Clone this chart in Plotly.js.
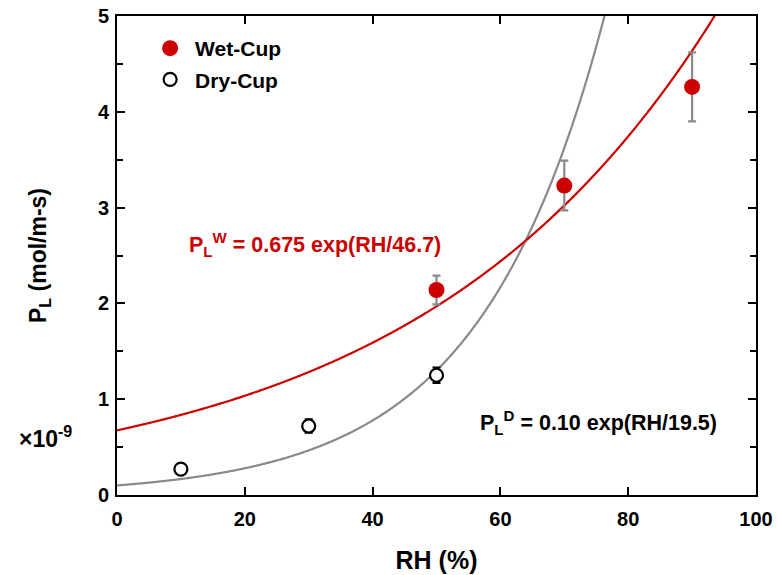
<!DOCTYPE html>
<html>
<head>
<meta charset="utf-8">
<script src="https://cdn.plot.ly/plotly-3.0.1.min.js"></script>
<style>html,body{margin:0;padding:0;background:#fff;}#chart{width:777px;height:575px;}</style>
</head>
<body>
<div id="chart"></div>
<script>
// Measured data (units of 1e-9 mol/m-s)
const wetRH = [50, 70, 90];
const wetPL = [2.14, 3.23, 4.26];
const wetErr = [0.15, 0.26, 0.36];

const dryRH = [10, 30, 50];
const dryPL = [0.27, 0.72, 1.25];
const dryErr = [0.03, 0.07, 0.08];

// Fit parameters as printed on the chart: P = A * exp(RH / B)
const wetFitA = 0.675, wetFitB = 46.7;
const dryFitA = 0.10, dryFitB = 19.5;

const xTicks = [0, 20, 40, 60, 80, 100];
const yTicks = [0, 1, 2, 3, 4, 5];

const fitRH = [];
for (let i = 0; i <= 400; i++) fitRH.push(i * 0.25);
const wetFit = fitRH.map(x => wetFitA * Math.exp(x / wetFitB));
const dryFit = fitRH.map(x => dryFitA * Math.exp(x / dryFitB));

const RED = '#cc0000';
const GRAY = '#8a8a8a';
const FONT = 'Liberation Sans, Arial, Helvetica, sans-serif';

const traces = [
  {x: fitRH, y: dryFit, mode: 'lines', line: {color: GRAY, width: 2.2, shape: 'spline'}, showlegend: false, hoverinfo: 'skip'},
  {x: fitRH, y: wetFit, mode: 'lines', line: {color: RED, width: 2.2, shape: 'spline'}, showlegend: false, hoverinfo: 'skip'},
  {x: wetRH, y: wetPL, mode: 'markers', name: 'Wet-Cup', legendgroup: 'w',
   marker: {color: RED, size: 16, line: {width: 0}},
   error_y: {type: 'data', array: wetErr, visible: true, color: GRAY, thickness: 2.2, width: 4}},
  {x: dryRH, y: dryPL, mode: 'markers', name: 'Dry-Cup', legendgroup: 'd',
   marker: {color: 'white', size: 13, line: {color: 'black', width: 2.2}},
   error_y: {type: 'data', array: dryErr, visible: true, color: 'black', thickness: 2, width: 4}}
];

const axisCommon = {
  showgrid: false, zeroline: false, showline: true, linecolor: 'black', linewidth: 2,
  mirror: 'allticks', ticks: 'inside', ticklen: 8, tickwidth: 2, tickcolor: 'black',
  tickfont: {family: FONT, size: 20, color: 'black', weight: 'bold'}
};

const layout = {
  width: 777, height: 575,
  margin: {l: 117, r: 21, t: 16, b: 80},
  paper_bgcolor: 'white', plot_bgcolor: 'white',
  font: {family: FONT, color: 'black'},
  xaxis: Object.assign({}, axisCommon, {
    range: [0, 100], tickmode: 'array', tickvals: xTicks, ticktext: xTicks.map(String),
    ticklabelstandoff: 5,
    title: {text: 'RH (%)', font: {family: FONT, size: 25, color: 'black', weight: 'bold'}, standoff: 22}
  }),
  yaxis: Object.assign({}, axisCommon, {
    range: [0, 5], tickmode: 'array', tickvals: yTicks, ticktext: yTicks.map(String),
    ticklabelstandoff: 2,
    minor: {dtick: 0.5, ticks: 'inside', ticklen: 6, tickwidth: 2, tickcolor: 'black', showgrid: false},
    title: {text: 'P<sub>L</sub> (mol/m-s)', font: {family: FONT, size: 23, color: 'black', weight: 'bold'}, standoff: 45}
  }),
  showlegend: true,
  legend: {x: 0.044, y: 0.975, xanchor: 'left', yanchor: 'top', bgcolor: 'rgba(0,0,0,0)',
    font: {family: FONT, size: 21, color: 'black', weight: 'bold'}, tracegroupgap: 1, itemwidth: 40},
  annotations: [
    {xref: 'paper', yref: 'paper', x: -0.112, y: 0.122, xanchor: 'center', yanchor: 'middle', showarrow: false,
     text: '×10<sup>-9</sup>', font: {family: FONT, size: 23, color: 'black', weight: 'bold'}},
    {xref: 'x', yref: 'y', x: 11, y: 2.61, xanchor: 'left', yanchor: 'middle', showarrow: false,
     text: 'P<sub>L</sub><sup>W</sup> = 0.675 exp(RH/46.7)', font: {family: FONT, size: 21.5, color: RED, weight: 'bold'}},
    {xref: 'x', yref: 'y', x: 56.5, y: 0.76, xanchor: 'left', yanchor: 'middle', showarrow: false,
     text: 'P<sub>L</sub><sup>D</sup> = 0.10 exp(RH/19.5)', font: {family: FONT, size: 21.5, color: 'black', weight: 'bold'}}
  ]
};

Plotly.newPlot('chart', traces, layout, {displayModeBar: false, staticPlot: true});
</script>
</body>
</html>
